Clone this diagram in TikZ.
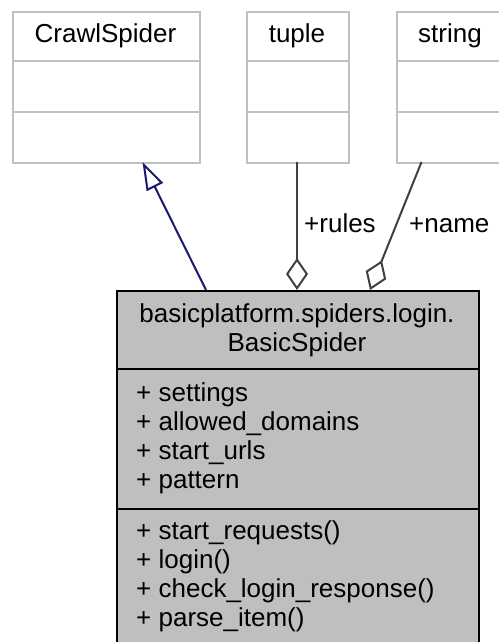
\documentclass[tikz,border=0pt]{standalone}
\usepackage{fontspec}
\setmainfont{Liberation Sans}
\usetikzlibrary{arrows.meta}
\definecolor{boxgray}{HTML}{BFBFBF}
\definecolor{edgegray}{HTML}{404040}
\definecolor{inhblue}{HTML}{191970}
\begin{document}
\begin{tikzpicture}[x=1pt,y=-1pt,
  topbox/.style={draw=boxgray,line width=1.6pt,fill=white,inner sep=0pt,anchor=north west},
  mainbox/.style={draw=black,line width=2pt,fill=boxgray,inner sep=0pt,anchor=north west},
  txt/.style={inner sep=0pt,font=\fontsize{26}{29}\selectfont},
  assoc/.style={draw=edgegray,line width=2pt,-{Diamond[open,length=32pt,width=22pt,line width=2pt]}},
  inherit/.style={draw=inhblue,line width=2pt,-{Triangle[open,length=28pt,width=18pt,line width=2pt]}}]
\useasboundingbox (0,0) rectangle (498,642);
\fill[white] (0,0) rectangle (498,642);
% top boxes
\node[topbox,minimum width=187pt,minimum height=151pt] (crawl) at (12,11) {};
\draw[boxgray,line width=1.6pt] (12,61) -- (199,61) (12,112) -- (199,112);
\node[txt,anchor=base] (crawlt) at (105.5,43) {CrawlSpider};
\node[topbox,minimum width=102pt,minimum height=151pt] (tuple) at (246,11) {};
\draw[boxgray,line width=1.6pt] (246,61) -- (348,61) (246,112) -- (348,112);
\node[txt,anchor=base] (tuplet) at (297,43) {tuple};
\node[topbox,minimum width=110pt,minimum height=151pt] (string) at (396,11) {};
\draw[boxgray,line width=1.6pt] (396,61) -- (506,61) (396,112) -- (506,112);
\node[txt,anchor=base] (stringt) at (450,43) {string};
% main box
\node[mainbox,minimum width=362pt,minimum height=380pt] (main) at (116,290) {};
\draw[black,line width=2pt] (116,369) -- (478,369) (116,509) -- (478,509);
\node[txt,anchor=base] (title1) at (297,322) {basicplatform.spiders.login.};
\node[txt,anchor=base] (title2) at (297,351) {BasicSpider};
\node[txt,anchor=base west] (a1) at (136,401) {+ settings};
\node[txt,anchor=base west] (a2) at (136,430) {+ allowed\_domains};
\node[txt,anchor=base west] (a3) at (136,459) {+ start\_urls};
\node[txt,anchor=base west] (a4) at (136,488) {+ pattern};
\node[txt,anchor=base west] (m1) at (136,539) {+ start\_requests()};
\node[txt,anchor=base west] (m2) at (136,568) {+ login()};
\node[txt,anchor=base west] (m3) at (136,597) {+ check\_login\_response()};
\node[txt,anchor=base west] (m4) at (136,626) {+ parse\_item()};
% attachment points
\coordinate (crawlB) at (142.5,162);
\coordinate (mainI) at (206,290);
\coordinate (tupleB) at (297,162);
\coordinate (mainR) at (297,290);
\coordinate (stringB) at (421.5,162);
\coordinate (mainN) at (370,290);
% edges
\draw[inherit] (mainI) -- (crawlB);
\draw[assoc] (tupleB) -- (mainR);
\draw[assoc] (stringB) -- (mainN);
\node[txt,anchor=base west] (lrules) at (304,232) {+rules};
\node[txt,anchor=base west] (lname) at (409,232) {+name};
\end{tikzpicture}
\end{document}
